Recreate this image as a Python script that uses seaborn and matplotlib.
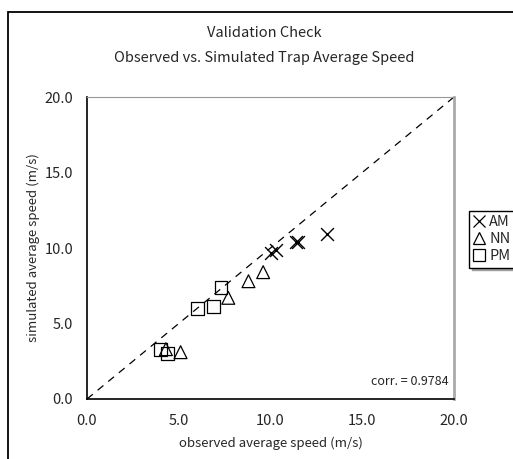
import matplotlib
matplotlib.use("Agg")
import matplotlib.pyplot as plt
import matplotlib.patches as mpatches
from matplotlib.lines import Line2D
import seaborn as sns
import pandas as pd

# observed vs simulated trap speeds (m/s)
am_obs = [10.0, 10.3, 11.5, 11.4, 13.1]
am_sim = [9.7, 9.9, 10.4, 10.4, 10.9]
nn_obs = [9.6, 8.8, 7.7, 5.1, 4.3]
nn_sim = [8.4, 7.8, 6.7, 3.1, 3.3]
pm_obs = [7.3, 6.0, 6.9, 4.0, 4.4]
pm_sim = [7.4, 6.0, 6.1, 3.3, 3.0]
ticks = [0, 5, 10, 15, 20]
corr_text = "corr. = 0.9784"

sns.set_style("white")
plt.rcParams['font.family'] = ['Noto Sans CJK JP', 'DejaVu Sans']

fig = plt.figure(figsize=(5.13, 4.59), dpi=100)
ax = fig.add_axes([87 / 513, 60 / 459, 367 / 513, 302 / 459])

series = {
    "AM": (am_obs, am_sim, "x"),
    "NN": (nn_obs, nn_sim, "^"),
    "PM": (pm_obs, pm_sim, "s"),
}
handles = []
for name, (xs, ys, mk) in series.items():
    df = pd.DataFrame({"obs": xs, "sim": ys})
    if mk == "x":
        sns.scatterplot(data=df, x="obs", y="sim", marker=mk, s=85,
                        color="black", linewidth=1.0, ax=ax, zorder=3)
    else:
        sns.scatterplot(data=df, x="obs", y="sim", marker=mk, s=85,
                        facecolor="none", edgecolor="black", linewidth=0.9,
                        ax=ax, zorder=3)
    handles.append(Line2D([], [], marker=mk, linestyle="none", color="black",
                          markerfacecolor="none", markersize=8,
                          markeredgewidth=0.9, label=name))

# 1:1 line
ax.plot([0, 20], [0, 20], color="black", linestyle=(0, (6, 5)), linewidth=0.9)

ax.set_xlim(0, 20)
ax.set_ylim(0, 20)
ax.set_xticks(ticks)
ax.set_yticks(ticks)
ax.set_xticklabels([f"{t:.1f}" for t in ticks], fontsize=10.5)
ax.set_yticklabels([f"{t:.1f}" for t in ticks], fontsize=10.5)
ax.tick_params(direction="in", length=5, width=1, color="black", pad=10)
ax.tick_params(axis="x", pad=11)
ax.set_xlabel("observed average speed (m/s)", fontsize=9.5, labelpad=6)
ax.set_ylabel("simulated average speed (m/s)", fontsize=9.5, labelpad=3)

for side in ["left", "bottom"]:
    ax.spines[side].set_color("black")
    ax.spines[side].set_linewidth(1.2)
ax.spines["top"].set_color("#999999")
ax.spines["top"].set_linewidth(0.8)
ax.spines["right"].set_color("#aaaaaa")
ax.spines["right"].set_linewidth(2)

ax.text(0.985, 0.035, corr_text, transform=ax.transAxes, ha="right",
        va="bottom", fontsize=9)

fig.text(0.515, 1 - 33 / 459, "Validation Check", ha="center", va="center",
         fontsize=10.5)
fig.text(0.515, 1 - 58 / 459, "Observed vs. Simulated Trap Average Speed",
         ha="center", va="center", fontsize=10.5)

leg = fig.legend(handles=handles, loc="upper left",
                 bbox_to_anchor=(469 / 513, 1 - 211 / 459),
                 frameon=True, fancybox=False,
                 shadow={"color": "#a0a0a0", "alpha": 1, "ox": 2, "oy": -2},
                 edgecolor="black", fontsize=10.5, handlelength=0.8,
                 handletextpad=0.3, borderpad=0.3, labelspacing=0.2,
                 borderaxespad=0)
leg.get_frame().set_linewidth(1.0)

# outer chart frame, cropped by the image edge
frame = mpatches.Rectangle((8 / 513, -0.1), 1.2, 1 - 12 / 459 + 0.1,
                           transform=fig.transFigure, fill=False,
                           edgecolor="black", linewidth=1.3, clip_on=False)
fig.patches.append(frame)

fig.savefig("out.png", dpi=100)
